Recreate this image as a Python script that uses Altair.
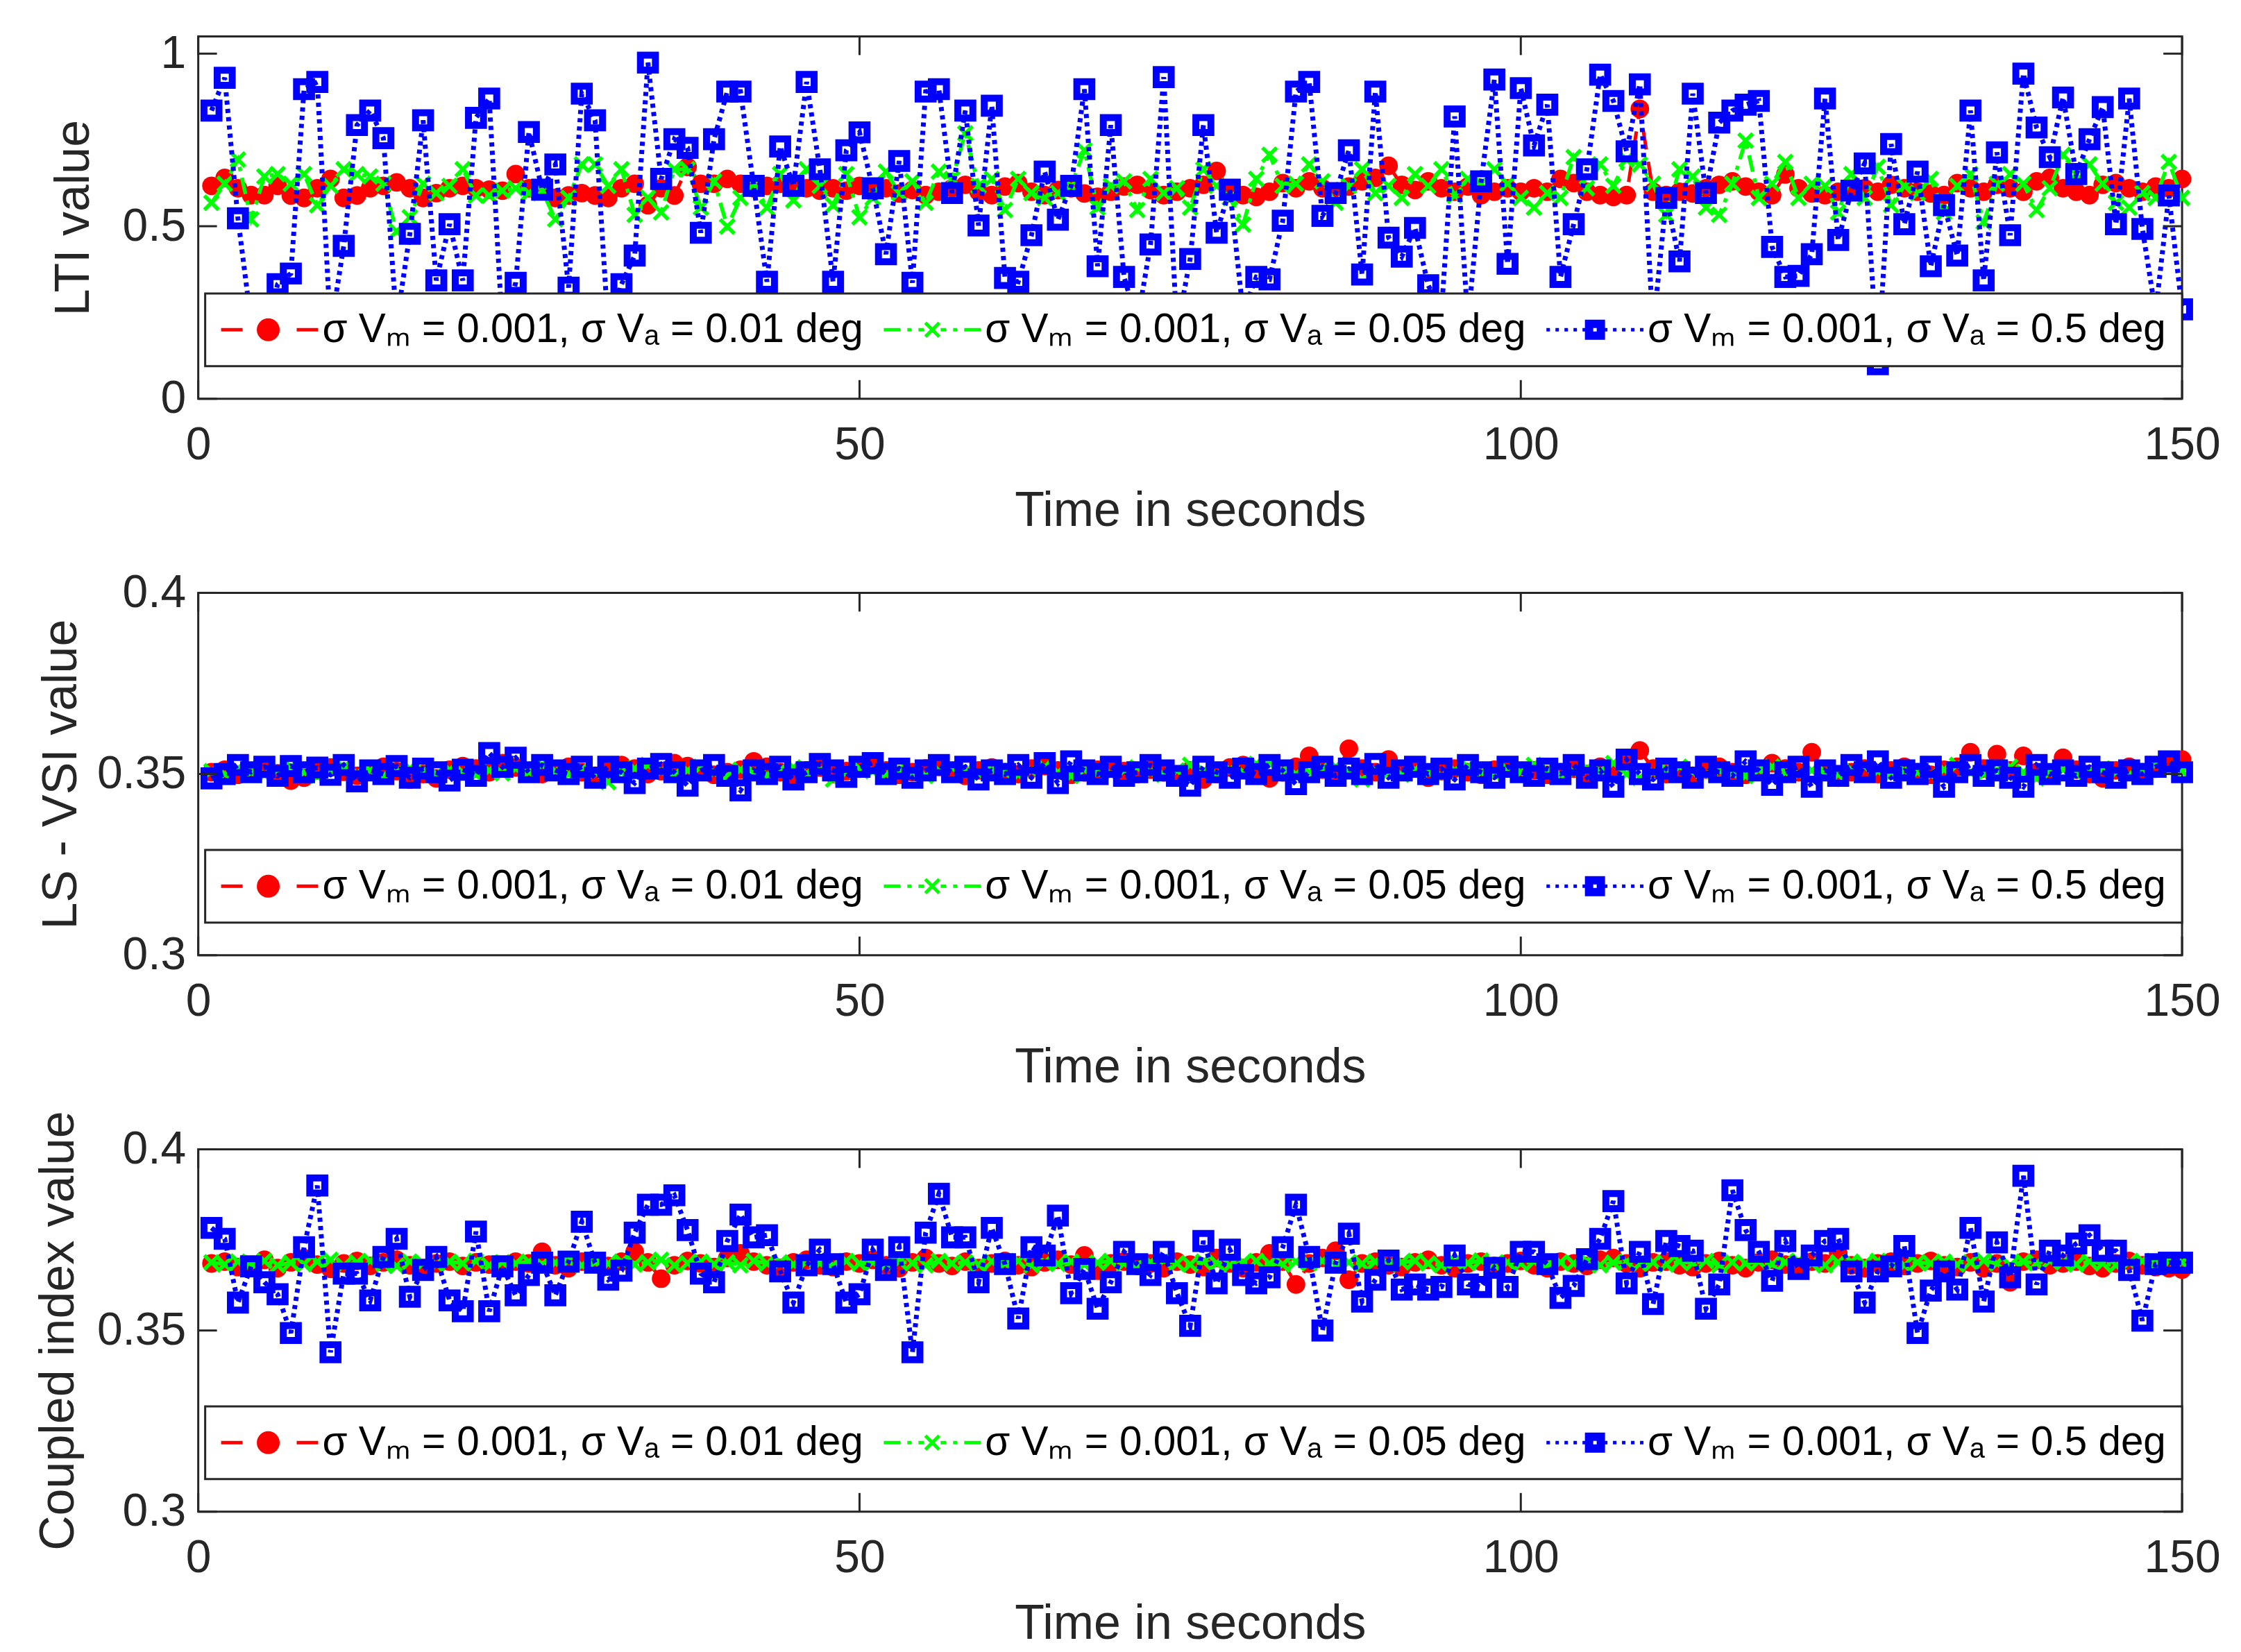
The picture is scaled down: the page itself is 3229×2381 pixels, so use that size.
import altair as alt
import pandas as pd

TIME = list(range(1, 151))

SERIES_LABELS = [
    "σ Vₘ = 0.001, σ Vₐ = 0.01 deg",
    "σ Vₘ = 0.001, σ Vₐ = 0.05 deg",
    "σ Vₘ = 0.001, σ Vₐ = 0.5 deg",
]
SERIES_COLORS = ["#ff0000", "#00ff00", "#0000ff"]
X_TICKS = [0, 50, 100, 150]
LTI_TICKS = [0, 0.5, 1]
SMALL_TICKS = [0.3, 0.35, 0.4]

# ---------------- Panel 1 : LTI value ----------------
lti_red = [
    0.617, 0.640, 0.610, 0.590, 0.590, 0.617, 0.589, 0.582, 0.610, 0.637,
    0.582, 0.589, 0.610, 0.617, 0.627, 0.610, 0.582, 0.596, 0.610, 0.617,
    0.610, 0.606, 0.603, 0.651, 0.610, 0.603, 0.582, 0.589, 0.596, 0.589,
    0.582, 0.610, 0.623, 0.561, 0.610, 0.589, 0.672, 0.623, 0.623, 0.637,
    0.623, 0.610, 0.617, 0.623, 0.617, 0.610, 0.603, 0.610, 0.603, 0.617,
    0.600, 0.610, 0.595, 0.605, 0.590, 0.600, 0.610, 0.620, 0.600, 0.590,
    0.615, 0.625, 0.600, 0.590, 0.605, 0.610, 0.595, 0.585, 0.600, 0.615,
    0.620, 0.605, 0.590, 0.600, 0.610, 0.620, 0.660, 0.605, 0.590, 0.585,
    0.600, 0.625, 0.610, 0.630, 0.610, 0.600, 0.615, 0.630, 0.640, 0.675,
    0.620, 0.605, 0.630, 0.610, 0.600, 0.615, 0.590, 0.600, 0.610, 0.600,
    0.610, 0.600, 0.637, 0.625, 0.600, 0.590, 0.585, 0.590, 0.840, 0.600,
    0.590, 0.600, 0.595, 0.610, 0.620, 0.630, 0.615, 0.600, 0.590, 0.650,
    0.610, 0.595, 0.590, 0.600, 0.605, 0.610, 0.600, 0.620, 0.610, 0.600,
    0.595, 0.590, 0.625, 0.610, 0.600, 0.620, 0.610, 0.600, 0.630, 0.640,
    0.610, 0.600, 0.590, 0.620, 0.625, 0.610, 0.600, 0.615, 0.610, 0.637,
]
lti_green = [
    0.568, 0.623, 0.693, 0.520, 0.644, 0.651, 0.623, 0.651, 0.561, 0.617,
    0.665, 0.651, 0.644, 0.623, 0.485, 0.526, 0.623, 0.596, 0.617, 0.665,
    0.589, 0.589, 0.603, 0.610, 0.596, 0.603, 0.520, 0.582, 0.679, 0.679,
    0.617, 0.665, 0.533, 0.582, 0.540, 0.665, 0.665, 0.554, 0.630, 0.499,
    0.582, 0.623, 0.554, 0.651, 0.575, 0.665, 0.617, 0.561, 0.651, 0.526,
    0.582, 0.658, 0.596, 0.630, 0.568, 0.658, 0.637, 0.769, 0.617, 0.637,
    0.547, 0.637, 0.596, 0.582, 0.596, 0.617, 0.720, 0.554, 0.617, 0.630,
    0.547, 0.637, 0.596, 0.610, 0.554, 0.665, 0.617, 0.582, 0.505, 0.637,
    0.707, 0.617, 0.623, 0.679, 0.630, 0.568, 0.617, 0.665, 0.596, 0.617,
    0.582, 0.651, 0.617, 0.665, 0.589, 0.637, 0.623, 0.665, 0.623, 0.582,
    0.554, 0.596, 0.582, 0.700, 0.610, 0.679, 0.617, 0.693, 0.679, 0.623,
    0.533, 0.665, 0.644, 0.554, 0.533, 0.623, 0.748, 0.582, 0.623, 0.686,
    0.582, 0.623, 0.617, 0.540, 0.651, 0.582, 0.672, 0.561, 0.617, 0.596,
    0.637, 0.540, 0.617, 0.651, 0.512, 0.623, 0.651, 0.623, 0.547, 0.610,
    0.707, 0.651, 0.679, 0.623, 0.568, 0.554, 0.596, 0.582, 0.686, 0.582,
]
lti_blue = [
    0.835, 0.930, 0.523, 0.220, 0.170, 0.332, 0.363, 0.897, 0.918, 0.200,
    0.443, 0.793, 0.835, 0.755, 0.220, 0.478, 0.807, 0.343, 0.506, 0.343,
    0.814, 0.870, 0.200, 0.336, 0.773, 0.606, 0.679, 0.322, 0.884, 0.807,
    0.200, 0.332, 0.415, 0.974, 0.637, 0.752, 0.727, 0.481, 0.752, 0.890,
    0.890, 0.617, 0.339, 0.731, 0.617, 0.918, 0.665, 0.339, 0.720, 0.772,
    0.610, 0.419, 0.689, 0.336, 0.890, 0.897, 0.596, 0.835, 0.502, 0.849,
    0.350, 0.339, 0.474, 0.658, 0.519, 0.617, 0.897, 0.384, 0.793, 0.353,
    0.220, 0.447, 0.932, 0.200, 0.405, 0.793, 0.481, 0.606, 0.250, 0.353,
    0.346, 0.516, 0.890, 0.918, 0.530, 0.596, 0.720, 0.360, 0.890, 0.467,
    0.412, 0.495, 0.329, 0.250, 0.818, 0.220, 0.630, 0.925, 0.391, 0.900,
    0.734, 0.852, 0.353, 0.506, 0.665, 0.939, 0.863, 0.717, 0.911, 0.200,
    0.582, 0.398, 0.884, 0.596, 0.800, 0.835, 0.852, 0.863, 0.440, 0.353,
    0.356, 0.419, 0.870, 0.460, 0.603, 0.682, 0.100, 0.738, 0.506, 0.658,
    0.384, 0.561, 0.415, 0.835, 0.343, 0.714, 0.474, 0.942, 0.786, 0.700,
    0.873, 0.651, 0.752, 0.845, 0.506, 0.870, 0.492, 0.250, 0.589, 0.259,
]

# ---------------- Panel 2 : LS - VSI value ----------------
lsvsi_red = [
    0.3505, 0.3512, 0.3498, 0.3508, 0.3515, 0.3502, 0.3482, 0.3490, 0.3510, 0.3518,
    0.3506, 0.3495, 0.3512, 0.3520, 0.3508, 0.3485, 0.3500, 0.3488, 0.3512, 0.3522,
    0.3515, 0.3505, 0.3530, 0.3518, 0.3508, 0.3500, 0.3512, 0.3520, 0.3505, 0.3495,
    0.3510, 0.3525, 0.3515, 0.3500, 0.3508, 0.3530, 0.3522, 0.3510, 0.3498, 0.3505,
    0.3512, 0.3535, 0.3520, 0.3505, 0.3495, 0.3510, 0.3518, 0.3500, 0.3508, 0.3515,
    0.3525, 0.3510, 0.3498, 0.3505, 0.3515, 0.3520, 0.3508, 0.3495, 0.3510, 0.3518,
    0.3505, 0.3500, 0.3515, 0.3522, 0.3510, 0.3498, 0.3505, 0.3512, 0.3520, 0.3508,
    0.3500, 0.3512, 0.3505, 0.3495, 0.3510, 0.3485, 0.3500, 0.3518, 0.3525, 0.3510,
    0.3488, 0.3505, 0.3520, 0.3550, 0.3512, 0.3500, 0.3570, 0.3515, 0.3505, 0.3540,
    0.3512, 0.3520, 0.3490, 0.3508, 0.3515, 0.3505, 0.3498, 0.3512, 0.3520, 0.3505,
    0.3510, 0.3498, 0.3505, 0.3515, 0.3500, 0.3520, 0.3512, 0.3540, 0.3565, 0.3515,
    0.3500, 0.3508, 0.3495, 0.3512, 0.3520, 0.3505, 0.3498, 0.3510, 0.3530, 0.3515,
    0.3505, 0.3560, 0.3512, 0.3490, 0.3505, 0.3515, 0.3500, 0.3510, 0.3520, 0.3505,
    0.3498, 0.3512, 0.3520, 0.3560, 0.3515, 0.3555, 0.3510, 0.3550, 0.3505, 0.3498,
    0.3545, 0.3512, 0.3500, 0.3488, 0.3510, 0.3520, 0.3505, 0.3515, 0.3525, 0.3540,
]
lsvsi_green = [
    0.3508, 0.3500, 0.3515, 0.3505, 0.3498, 0.3512, 0.3520, 0.3505, 0.3495, 0.3510,
    0.3518, 0.3502, 0.3510, 0.3495, 0.3505, 0.3515, 0.3508, 0.3500, 0.3512, 0.3505,
    0.3498, 0.3510, 0.3502, 0.3515, 0.3505, 0.3525, 0.3508, 0.3500, 0.3512, 0.3505,
    0.3478, 0.3505, 0.3515, 0.3525, 0.3508, 0.3498, 0.3510, 0.3520, 0.3505, 0.3495,
    0.3512, 0.3505, 0.3498, 0.3510, 0.3518, 0.3502, 0.3510, 0.3485, 0.3505, 0.3515,
    0.3508, 0.3500, 0.3512, 0.3505, 0.3495, 0.3510, 0.3518, 0.3505, 0.3500, 0.3512,
    0.3505, 0.3498, 0.3510, 0.3520, 0.3505, 0.3495, 0.3512, 0.3505, 0.3500, 0.3510,
    0.3518, 0.3505, 0.3498, 0.3510, 0.3525, 0.3508, 0.3500, 0.3512, 0.3505, 0.3528,
    0.3530, 0.3510, 0.3500, 0.3505, 0.3515, 0.3520, 0.3505, 0.3485, 0.3510, 0.3505,
    0.3498, 0.3512, 0.3505, 0.3495, 0.3510, 0.3520, 0.3505, 0.3500, 0.3512, 0.3505,
    0.3525, 0.3510, 0.3498, 0.3505, 0.3515, 0.3508, 0.3530, 0.3500, 0.3490, 0.3505,
    0.3512, 0.3520, 0.3505, 0.3498, 0.3510, 0.3505, 0.3495, 0.3512, 0.3520, 0.3505,
    0.3500, 0.3510, 0.3505, 0.3498, 0.3512, 0.3520, 0.3508, 0.3500, 0.3510, 0.3505,
    0.3498, 0.3512, 0.3525, 0.3505, 0.3500, 0.3510, 0.3520, 0.3505, 0.3488, 0.3505,
    0.3512, 0.3500, 0.3508, 0.3515, 0.3505, 0.3498, 0.3510, 0.3528, 0.3512, 0.3508,
]
lsvsi_blue = [
    0.3488, 0.3500, 0.3525, 0.3505, 0.3520, 0.3495, 0.3522, 0.3505, 0.3518, 0.3498,
    0.3525, 0.3480, 0.3510, 0.3500, 0.3522, 0.3490, 0.3515, 0.3505, 0.3482, 0.3512,
    0.3495, 0.3558, 0.3520, 0.3545, 0.3505, 0.3525, 0.3510, 0.3500, 0.3520, 0.3490,
    0.3520, 0.3505, 0.3475, 0.3515, 0.3528, 0.3505, 0.3468, 0.3510, 0.3525, 0.3495,
    0.3455, 0.3510, 0.3500, 0.3520, 0.3485, 0.3505, 0.3528, 0.3510, 0.3492, 0.3520,
    0.3530, 0.3500, 0.3515, 0.3490, 0.3510, 0.3525, 0.3505, 0.3520, 0.3485, 0.3510,
    0.3500, 0.3525, 0.3490, 0.3530, 0.3475, 0.3535, 0.3510, 0.3500, 0.3520, 0.3495,
    0.3505, 0.3525, 0.3510, 0.3495, 0.3468, 0.3520, 0.3505, 0.3490, 0.3515, 0.3500,
    0.3525, 0.3510, 0.3472, 0.3505, 0.3520, 0.3495, 0.3515, 0.3500, 0.3528, 0.3490,
    0.3510, 0.3520, 0.3500, 0.3515, 0.3485, 0.3525, 0.3505, 0.3490, 0.3520, 0.3505,
    0.3495, 0.3515, 0.3500, 0.3525, 0.3490, 0.3510, 0.3465, 0.3540, 0.3500, 0.3485,
    0.3515, 0.3505, 0.3490, 0.3520, 0.3505, 0.3495, 0.3535, 0.3510, 0.3470, 0.3505,
    0.3520, 0.3465, 0.3510, 0.3495, 0.3525, 0.3505, 0.3535, 0.3490, 0.3510, 0.3500,
    0.3520, 0.3465, 0.3505, 0.3525, 0.3495, 0.3510, 0.3490, 0.3465, 0.3525, 0.3500,
    0.3510, 0.3495, 0.3520, 0.3505, 0.3490, 0.3510, 0.3500, 0.3520, 0.3535, 0.3505,
]

# ---------------- Panel 3 : Coupled index value ----------------
coupled_red = [
    0.3685, 0.3690, 0.3675, 0.3680, 0.3695, 0.3672, 0.3688, 0.3700, 0.3682, 0.3670,
    0.3685, 0.3692, 0.3678, 0.3688, 0.3695, 0.3680, 0.3672, 0.3685, 0.3690, 0.3678,
    0.3688, 0.3682, 0.3675, 0.3690, 0.3685, 0.3717, 0.3680, 0.3672, 0.3690, 0.3685,
    0.3678, 0.3690, 0.3717, 0.3688, 0.3643, 0.3680, 0.3692, 0.3685, 0.3675, 0.3700,
    0.3713, 0.3690, 0.3680, 0.3672, 0.3688, 0.3695, 0.3680, 0.3675, 0.3690, 0.3685,
    0.3695, 0.3680, 0.3672, 0.3688, 0.3700, 0.3685, 0.3678, 0.3690, 0.3672, 0.3685,
    0.3692, 0.3680, 0.3675, 0.3688, 0.3695, 0.3682, 0.3707, 0.3665, 0.3685, 0.3690,
    0.3678, 0.3685, 0.3672, 0.3690, 0.3682, 0.3675, 0.3700, 0.3685, 0.3672, 0.3688,
    0.3713, 0.3690, 0.3627, 0.3685, 0.3700, 0.3720, 0.3640, 0.3685, 0.3690, 0.3680,
    0.3675, 0.3688, 0.3695, 0.3680, 0.3672, 0.3685, 0.3690, 0.3678, 0.3685, 0.3692,
    0.3680, 0.3672, 0.3690, 0.3685, 0.3678, 0.3695, 0.3700, 0.3685, 0.3672, 0.3688,
    0.3690, 0.3680, 0.3675, 0.3685, 0.3692, 0.3680, 0.3672, 0.3688, 0.3695, 0.3682,
    0.3675, 0.3690, 0.3685, 0.3713, 0.3680, 0.3672, 0.3685, 0.3690, 0.3678, 0.3685,
    0.3692, 0.3680, 0.3675, 0.3688, 0.3672, 0.3685, 0.3633, 0.3690, 0.3695, 0.3680,
    0.3685, 0.3690, 0.3678, 0.3672, 0.3685, 0.3692, 0.3680, 0.3675, 0.3672, 0.3668,
]
coupled_green = [
    0.3688, 0.3682, 0.3690, 0.3685, 0.3692, 0.3680, 0.3687, 0.3683, 0.3690, 0.3695,
    0.3680, 0.3688, 0.3692, 0.3684, 0.3678, 0.3690, 0.3686, 0.3682, 0.3690, 0.3685,
    0.3692, 0.3680, 0.3688, 0.3685, 0.3690, 0.3682, 0.3687, 0.3693, 0.3680, 0.3688,
    0.3685, 0.3690, 0.3682, 0.3688, 0.3695, 0.3680, 0.3686, 0.3690, 0.3683, 0.3688,
    0.3680, 0.3692, 0.3685, 0.3688, 0.3682, 0.3690, 0.3686, 0.3680, 0.3692, 0.3685,
    0.3688, 0.3683, 0.3690, 0.3686, 0.3680, 0.3692, 0.3685, 0.3688, 0.3682, 0.3690,
    0.3685, 0.3692, 0.3680, 0.3688, 0.3684, 0.3690, 0.3682, 0.3687, 0.3692, 0.3685,
    0.3680, 0.3688, 0.3693, 0.3685, 0.3682, 0.3690, 0.3686, 0.3680, 0.3688, 0.3692,
    0.3685, 0.3682, 0.3690, 0.3686, 0.3692, 0.3680, 0.3688, 0.3684, 0.3690, 0.3682,
    0.3688, 0.3692, 0.3685, 0.3680, 0.3690, 0.3686, 0.3693, 0.3682, 0.3688, 0.3685,
    0.3690, 0.3682, 0.3688, 0.3685, 0.3692, 0.3680, 0.3687, 0.3690, 0.3684, 0.3688,
    0.3682, 0.3690, 0.3686, 0.3692, 0.3680, 0.3688, 0.3685, 0.3690, 0.3683, 0.3688,
    0.3692, 0.3685, 0.3680, 0.3688, 0.3690, 0.3684, 0.3692, 0.3686, 0.3680, 0.3688,
    0.3685, 0.3690, 0.3682, 0.3688, 0.3693, 0.3685, 0.3680, 0.3690, 0.3686, 0.3692,
    0.3688, 0.3682, 0.3690, 0.3685, 0.3680, 0.3688, 0.3692, 0.3686, 0.3690, 0.3688,
]
coupled_blue = [
    0.3783, 0.3753, 0.3577, 0.3677, 0.3633, 0.3600, 0.3493, 0.3730, 0.3900, 0.3440,
    0.3657, 0.3657, 0.3583, 0.3703, 0.3753, 0.3593, 0.3667, 0.3703, 0.3583, 0.3553,
    0.3773, 0.3553, 0.3677, 0.3597, 0.3653, 0.3687, 0.3597, 0.3690, 0.3800, 0.3687,
    0.3640, 0.3665, 0.3770, 0.3847, 0.3847, 0.3873, 0.3777, 0.3657, 0.3633, 0.3747,
    0.3820, 0.3757, 0.3763, 0.3663, 0.3577, 0.3680, 0.3723, 0.3683, 0.3577, 0.3600,
    0.3723, 0.3667, 0.3730, 0.3440, 0.3770, 0.3877, 0.3757, 0.3757, 0.3633, 0.3783,
    0.3683, 0.3533, 0.3730, 0.3707, 0.3817, 0.3603, 0.3670, 0.3560, 0.3633, 0.3717,
    0.3683, 0.3653, 0.3717, 0.3603, 0.3513, 0.3747, 0.3630, 0.3723, 0.3653, 0.3630,
    0.3647, 0.3730, 0.3847, 0.3703, 0.3500, 0.3687, 0.3767, 0.3580, 0.3640, 0.3693,
    0.3613, 0.3627, 0.3613, 0.3620, 0.3707, 0.3627, 0.3620, 0.3673, 0.3620, 0.3717,
    0.3717, 0.3683, 0.3590, 0.3623, 0.3697, 0.3753, 0.3857, 0.3630, 0.3717, 0.3573,
    0.3747, 0.3733, 0.3720, 0.3560, 0.3627, 0.3887, 0.3777, 0.3717, 0.3637, 0.3747,
    0.3670, 0.3707, 0.3747, 0.3753, 0.3663, 0.3577, 0.3663, 0.3677, 0.3733, 0.3493,
    0.3610, 0.3663, 0.3613, 0.3783, 0.3580, 0.3743, 0.3647, 0.3927, 0.3627, 0.3720,
    0.3707, 0.3740, 0.3763, 0.3720, 0.3720, 0.3667, 0.3527, 0.3683, 0.3687, 0.3687,
]

for arr in [lti_red, lti_green, lti_blue, lsvsi_red, lsvsi_green, lsvsi_blue,
            coupled_red, coupled_green, coupled_blue]:
    assert len(arr) == len(TIME), len(arr)

W, H = 2862, 523
FONT = "Liberation Sans"
TXT = "#262626"
TICK_LEN = 27

# ---- legend symbols (line style + marker) as custom SVG paths ----
LEG_FONT = 58.5
LEG_SYM = 2500          # symbol area -> 25 px per path unit, entry size = font size
LEG_UNIT = 25.0
LEG_CX = LEG_FONT / 2.0  # symbol centre inside the entry


def _u(px):
    return round((px - LEG_CX) / LEG_UNIT, 3)


def _seg(a, b):
    return f"M{_u(a)},0H{_u(b)}"


def _yy(px):
    return round(px / LEG_UNIT, 3)


LEG_RED = (_seg(0, 31) + _seg(109, 140) +
           f"M{_u(54)},0A{_yy(14)},{_yy(14)},0,1,1,{_u(82)},0"
           f"A{_yy(14)},{_yy(14)},0,1,1,{_u(54)},0Z")
LEG_GREEN = (_seg(0, 24) + _seg(34, 40) + _seg(50, 58) + _seg(82, 90) +
             _seg(100, 106) + _seg(116, 140) +
             f"M{_u(60)},{_yy(-10)}L{_u(80)},{_yy(10)}"
             f"M{_u(60)},{_yy(10)}L{_u(80)},{_yy(-10)}")
LEG_BLUE = (_seg(0, 5) + _seg(13, 18) + _seg(26, 31) + _seg(39, 44) + _seg(52, 56) +
            _seg(84, 88) + _seg(96, 101) + _seg(109, 114) + _seg(122, 127) + _seg(135, 140) +
            f"M{_u(58)},{_yy(-12)}H{_u(82)}V{_yy(12)}H{_u(58)}Z"
            f"M{_u(65)},{_yy(-5)}V{_yy(5)}H{_u(75)}V{_yy(-5)}Z")
LEG_PATHS = [LEG_RED, LEG_GREEN, LEG_BLUE]

X_MARK = "M-1,-1L1,1M-1,1L1,-1"


def legend_def():
    return alt.Legend(
        title=None, orient="none", legendX=10, legendY=371,
        direction="horizontal", symbolSize=LEG_SYM, symbolStrokeWidth=5,
        labelFont=FONT, labelFontSize=LEG_FONT, labelColor="#000000",
        labelLimit=3000, labelOffset=146 - LEG_FONT, columnPadding=19, padding=23,
        fillColor="#ffffff", strokeColor=TXT, symbolOpacity=1, zindex=1,
    )


def make_panel(red, green, blue, ydomain, yticks, ytitle, ytitle_pad):
    xs = alt.Scale(domain=[0, 150], nice=False, zero=False)
    ys = alt.Scale(domain=ydomain, nice=False, zero=False)
    x_axis = alt.Axis(values=X_TICKS, title="Time in seconds", format="d",
                      labelPadding=35, titlePadding=28, labelFlush=False)
    y_axis = alt.Axis(values=yticks, format="~g", title=ytitle,
                      titlePadding=ytitle_pad, labelPadding=18, labelFlush=False)

    def X(field):
        return alt.X(field, scale=xs, axis=x_axis)

    def Y(field):
        return alt.Y(field, scale=ys, axis=y_axis)

    line_styles = [
        dict(color=SERIES_COLORS[0], strokeWidth=5, strokeDash=[28, 18]),
        dict(color=SERIES_COLORS[1], strokeWidth=5.5, strokeDash=[24, 10, 6, 10]),
        dict(color=SERIES_COLORS[2], strokeWidth=7, strokeDash=[6, 6]),
    ]
    point_styles = [
        dict(shape="circle", filled=True, fill=SERIES_COLORS[0], strokeWidth=0,
             size=720, opacity=1),
        dict(shape=X_MARK, filled=False, stroke=SERIES_COLORS[1], strokeWidth=5.5,
             size=420, opacity=1),
        dict(shape="square", filled=False, stroke=SERIES_COLORS[2], strokeWidth=10,
             size=470, opacity=1),
    ]

    layers = []
    for i, vals in enumerate([red, green, blue]):
        df = pd.DataFrame({"t": TIME, "v": vals})
        base = alt.Chart(df)
        layers.append(base.mark_line(**line_styles[i]).encode(x=X("t:Q"), y=Y("v:Q")))
        layers.append(base.mark_point(**point_styles[i]).encode(x=X("t:Q"), y=Y("v:Q")))

    # legend-only layer (no rows drawn)
    leg_df = pd.DataFrame({"series": SERIES_LABELS})
    legend_layer = alt.Chart(leg_df).transform_filter("false").mark_point(filled=True).encode(
        fill=alt.Fill("series:N", scale=alt.Scale(domain=SERIES_LABELS, range=SERIES_COLORS),
                      legend=legend_def()),
        stroke=alt.Stroke("series:N", scale=alt.Scale(domain=SERIES_LABELS, range=SERIES_COLORS),
                          legend=legend_def()),
        shape=alt.Shape("series:N", scale=alt.Scale(domain=SERIES_LABELS, range=LEG_PATHS),
                        legend=legend_def()),
    )
    layers.append(legend_layer)

    # inward ticks (MATLAB box style)
    yt = pd.DataFrame({"v": yticks})
    xt = pd.DataFrame({"t": X_TICKS})
    tick_kw = dict(color=TXT, strokeWidth=3)
    layers.append(alt.Chart(yt).mark_rule(**tick_kw).encode(
        y=Y("v:Q"), x=alt.value(0), x2=alt.value(TICK_LEN)))
    layers.append(alt.Chart(yt).mark_rule(**tick_kw).encode(
        y=Y("v:Q"), x=alt.value(W), x2=alt.value(W - TICK_LEN)))
    layers.append(alt.Chart(xt).mark_rule(**tick_kw).encode(
        x=X("t:Q"), y=alt.value(H), y2=alt.value(H - TICK_LEN)))
    layers.append(alt.Chart(xt).mark_rule(**tick_kw).encode(
        x=X("t:Q"), y=alt.value(0), y2=alt.value(TICK_LEN)))

    return alt.layer(*layers).properties(width=W, height=H)


p1 = make_panel(lti_red, lti_green, lti_blue, [0, 1.05], LTI_TICKS, "LTI value", 34)
p2 = make_panel(lsvsi_red, lsvsi_green, lsvsi_blue, [0.3, 0.4], SMALL_TICKS, "LS - VSI value", 15)
p3 = make_panel(coupled_red, coupled_green, coupled_blue, [0.3, 0.4], SMALL_TICKS,
                "Coupled index value", 19)

chart = (
    alt.vconcat(p1, p2, p3, spacing=280, bounds="flush")
    .resolve_scale(fill="independent", stroke="independent", shape="independent")
    .properties(padding={"left": 40, "top": 33, "right": 20, "bottom": 20},
                background="#ffffff")
    .configure_view(stroke=TXT, strokeWidth=3)
    .configure_axis(labelFont=FONT, titleFont=FONT, labelFontSize=66, titleFontSize=70,
                    titleFontWeight="normal", labelColor=TXT, titleColor=TXT,
                    grid=False, domain=False, ticks=False)
    .configure_legend(strokeWidth=3)
)

chart.save("out.html", embed_options={"renderer": "svg", "actions": False})
